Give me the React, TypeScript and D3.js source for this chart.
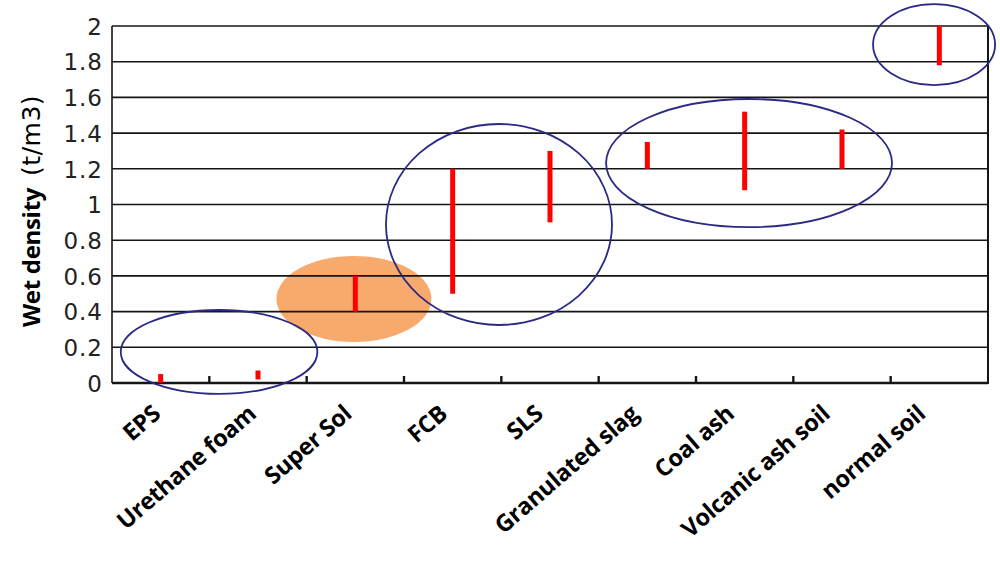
import React from "react";
import * as d3 from "d3";

const categories = [
  "EPS",
  "Urethane foam",
  "Super Sol",
  "FCB",
  "SLS",
  "Granulated slag",
  "Coal ash",
  "Volcanic ash soil",
  "normal soil",
];
const lowValues = [0, 0.02, 0.4, 0.5, 0.9, 1.2, 1.08, 1.2, 1.78];
const highValues = [0.05, 0.07, 0.6, 1.2, 1.3, 1.35, 1.52, 1.42, 2.0];
const yTicks = [0, 0.2, 0.4, 0.6, 0.8, 1, 1.2, 1.4, 1.6, 1.8, 2];

// annotation ellipses in data units: centre (category index, value), radii (categories, value)
const ellipseCx = [1.1, 3.976, 6.545, 8.446];
const ellipseCy = [0.174, 0.888, 1.232, 1.896];
const ellipseRx = [1.01, 1.161, 1.469, 0.627];
const ellipseRy = [0.235, 0.563, 0.359, 0.227];
const highlightCx = [2.486];
const highlightCy = [0.471];
const highlightRx = [0.796];
const highlightRy = [0.241];

const W = 1000;
const H = 564;
const left = 112;
const right = 988;
const top = 26;
const bottom = 383;

export default function App() {
  const y = d3.scaleLinear().domain([0, 2]).range([bottom, top]);
  const x = d3.scaleBand<string>().domain(categories).range([left, right]).padding(0);
  const xi = d3.scaleLinear().domain([0, categories.length]).range([left, right]);
  const labelX = d3.scalePoint<string>().domain(categories).range([left + 50, right - 61]);
  const pxPerUnit = y(0) - y(1);
  const pxPerCat = x.step();

  const font = "'DejaVu Sans', sans-serif";
  const boldFont = "'Open Sans', 'Noto Sans', sans-serif";

  return (
    <svg width={W} height={H} style={{ position: "absolute", left: 0, top: 0, background: "#fff" }}>
      {/* highlighted (filled) ellipse */}
      {highlightCx.map((c, i) => (
        <ellipse
          key={"h" + i}
          cx={xi(c)}
          cy={y(highlightCy[i])}
          rx={highlightRx[i] * pxPerCat}
          ry={highlightRy[i] * pxPerUnit}
          fill="#F8A96C"
        />
      ))}
      {/* gridlines */}
      {yTicks.map((t) => (
        <line key={t} x1={left} x2={right} y1={y(t)} y2={y(t)} stroke="#151515" strokeWidth={1.6} />
      ))}
      {/* frame */}
      <line x1={left} x2={left} y1={top} y2={bottom} stroke="#151515" strokeWidth={1.6} />
      <line x1={right} x2={right} y1={top} y2={bottom + 1} stroke="#151515" strokeWidth={2} />
      <line x1={left} x2={right} y1={bottom} y2={bottom} stroke="#151515" strokeWidth={2.4} />
      {/* x ticks at category boundaries */}
      {categories.slice(1).map((c) => (
        <line
          key={"t" + c}
          x1={x(c)!}
          x2={x(c)!}
          y1={bottom}
          y2={bottom - 7}
          stroke="#151515"
          strokeWidth={2.4}
        />
      ))}
      {/* y tick labels */}
      {yTicks.map((t) => (
        <text
          key={"l" + t}
          x={103}
          y={y(t)}
          dy="0.38em"
          textAnchor="end"
          fontFamily={font}
          fontSize={23}
          letterSpacing={1}
          fill="#222"
        >
          {d3.format("~g")(t)}
        </text>
      ))}
      {/* range bars */}
      {categories.map((c, i) => (
        <line
          key={"r" + c}
          x1={x(c)! + x.bandwidth() / 2}
          x2={x(c)! + x.bandwidth() / 2}
          y1={y(lowValues[i])}
          y2={y(highValues[i])}
          stroke="#FF0000"
          strokeWidth={5}
        />
      ))}
      {/* outline ellipses */}
      {ellipseCx.map((c, i) => (
        <ellipse
          key={"e" + i}
          cx={xi(c)}
          cy={y(ellipseCy[i])}
          rx={ellipseRx[i] * pxPerCat}
          ry={ellipseRy[i] * pxPerUnit}
          fill="none"
          stroke="#2a2a85"
          strokeWidth={1.8}
        />
      ))}
      {/* x labels */}
      {categories.map((c) => (
        <text
          key={"x" + c}
          transform={`translate(${labelX(c)},${416}) rotate(-41)`}
          textAnchor="end"
          fontFamily={boldFont}
          fontWeight={700}
          fontSize={23.5}
          letterSpacing={-0.3}
          fill="#000"
        >
          {c}
        </text>
      ))}
      {/* y title */}
      <text
        transform={`translate(40,211) rotate(-90)`}
        textAnchor="middle"
        fill="#000"
      >
        <tspan fontFamily={boldFont} fontWeight={700} fontSize={24} letterSpacing={-0.3}>
          Wet density
        </tspan>
        <tspan fontFamily={font} fontSize={25} letterSpacing={0.5} dx={12}>
          (t/m3)
        </tspan>
      </text>
    </svg>
  );
}
